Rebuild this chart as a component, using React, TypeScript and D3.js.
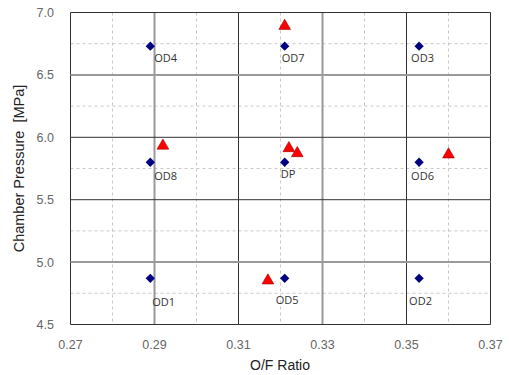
import React from "react";
import * as d3 from "d3";

// Design points (blue diamonds)
const designLabels = ["OD4", "OD7", "OD3", "OD8", "DP", "OD6", "OD1", "OD5", "OD2"];
const designOF = [0.289, 0.321, 0.353, 0.289, 0.321, 0.353, 0.289, 0.321, 0.353];
const designPc = [6.73, 6.73, 6.73, 5.8, 5.8, 5.8, 4.87, 4.87, 4.87];

// Test results (red triangles)
const testOF = [0.321, 0.292, 0.322, 0.324, 0.36, 0.317];
const testPc = [6.9, 5.94, 5.92, 5.88, 5.87, 4.86];

// Axis ticks
const xTicks = [0.27, 0.29, 0.31, 0.33, 0.35, 0.37];
const xMinor = [0.28, 0.3, 0.32, 0.34, 0.36];
const yTicks = [4.5, 5.0, 5.5, 6.0, 6.5, 7.0];
const yMinor = [4.75, 5.25, 5.75, 6.25, 6.75];

// label offsets (layout only)
const labelDx = [4, -3, -8, 4, -4, -8, 2, -9, -10];
const labelDy = [12, 12, 12, 14, 12, 14, 24, 22, 23];

const W = 509;
const H = 375;
const L = 70.5, R = 490.5, T = 12.5, B = 324.5;

export default function App() {
  const x = d3.scaleLinear().domain([0.27, 0.37]).range([L, R]);
  const y = d3.scaleLinear().domain([4.5, 7.0]).range([B, T]);
  const softX = new Set([0.29, 0.33]);
  const softY = new Set([6.5, 5.0]);
  const diamond = d3.symbol().type(d3.symbolDiamond2).size(55)();
  const tri = d3.symbol().type(d3.symbolTriangle).size(60)();
  const tickFont = "'Liberation Sans', 'DejaVu Sans', sans-serif";
  const lblFont = "'Open Sans', 'Noto Sans', sans-serif";
  return (
    <svg width={W} height={H} style={{ position: "absolute", left: 0, top: 0, background: "#fff" }}>
      {xMinor.map((v) => (
        <line key={"xm" + v} x1={x(v)} x2={x(v)} y1={T} y2={B} stroke="#c8c8c8" strokeDasharray="3,3" />
      ))}
      {yMinor.map((v) => (
        <line key={"ym" + v} x1={L} x2={R} y1={y(v)} y2={y(v)} stroke="#c8c8c8" strokeDasharray="3,3" />
      ))}
      {xTicks.map((v) => (
        <line key={"xt" + v} x1={x(v)} x2={x(v)} y1={T} y2={B}
          stroke={softX.has(v) ? "#9a9a9a" : "#333"} strokeWidth={softX.has(v) ? 2 : 1} />
      ))}
      {yTicks.map((v) => (
        <line key={"yt" + v} x1={L} x2={R} y1={y(v)} y2={y(v)}
          stroke={softY.has(v) ? "#9a9a9a" : "#333"} strokeWidth={softY.has(v) ? 2 : 1} />
      ))}
      {xTicks.map((v) => (
        <text key={"xl" + v} x={x(v)} y={349} textAnchor="middle" fontFamily={tickFont} fontSize={12.5} fill="#666">
          {v.toFixed(2)}
        </text>
      ))}
      {yTicks.map((v) => (
        <text key={"yl" + v} x={54} y={y(v) + 4.5} textAnchor="end" fontFamily={tickFont} fontSize={12.5} fill="#666">
          {v.toFixed(1)}
        </text>
      ))}
      <text x={280} y={370} textAnchor="middle" fontFamily={tickFont} fontSize={14} fill="#222">O/F Ratio</text>
      <text transform={`translate(24,${(T + B) / 2}) rotate(-90)`} textAnchor="middle" fontFamily={tickFont}
        fontSize={14.5} fill="#222" style={{ whiteSpace: "pre" }}>
        {"Chamber Pressure  [MPa]"}
      </text>
      {designOF.map((v, i) => (
        <g key={"d" + i}>
          <path d={diamond} transform={`translate(${x(v)},${y(designPc[i])})`} fill="#000080" />
          <text x={x(v) + labelDx[i]} y={y(designPc[i]) + labelDy[i] + 4} fontFamily={lblFont} fontSize={11} fill="#333">
            {designLabels[i]}
          </text>
        </g>
      ))}
      {testOF.map((v, i) => (
        <path key={"t" + i} d={tri} transform={`translate(${x(v)},${y(testPc[i]) + 1})`} fill="#ff0000" stroke="#990000" strokeWidth={0.6} />
      ))}
    </svg>
  );
}
